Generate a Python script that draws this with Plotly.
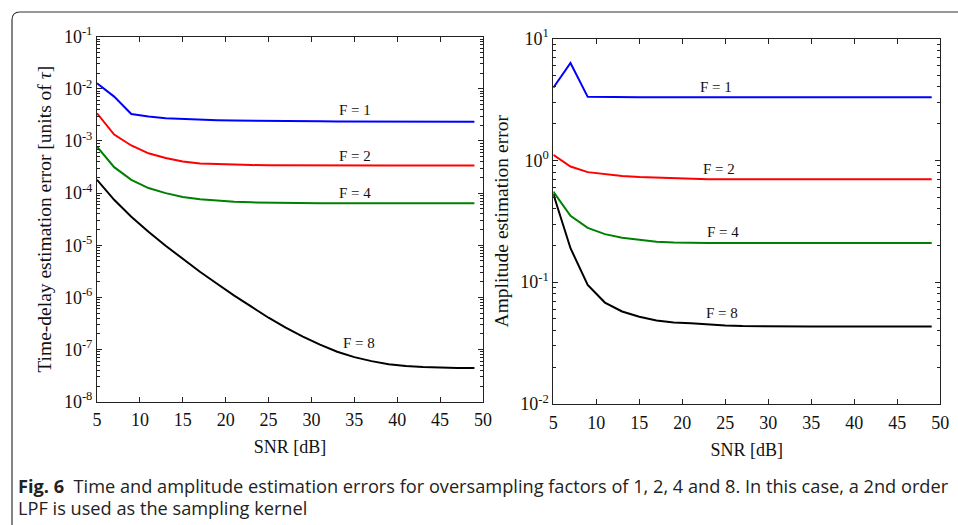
import math
import plotly.graph_objects as go

# SNR grid (dB)
snr = [5, 7, 9, 11, 13, 15, 17, 19, 21, 23, 25, 27, 29, 31, 33, 35, 37, 39, 41, 43, 45, 47, 49]

# Time-delay estimation error [units of tau]
td_f1 = [1.28e-2, 7.1e-3, 3.3e-3, 2.94e-3, 2.74e-3, 2.63e-3, 2.55e-3, 2.5e-3, 2.46e-3, 2.43e-3, 2.41e-3,
         2.4e-3, 2.39e-3, 2.38e-3, 2.37e-3, 2.37e-3, 2.36e-3, 2.36e-3, 2.36e-3, 2.35e-3, 2.35e-3, 2.35e-3, 2.35e-3]
td_f2 = [3.4e-3, 1.33e-3, 8.2e-4, 5.8e-4, 4.7e-4, 4.03e-4, 3.7e-4, 3.58e-4, 3.5e-4, 3.45e-4, 3.42e-4,
         3.4e-4, 3.39e-4, 3.38e-4, 3.38e-4, 3.38e-4, 3.38e-4, 3.38e-4, 3.38e-4, 3.38e-4, 3.38e-4, 3.38e-4, 3.38e-4]
td_f4 = [7.8e-4, 3.15e-4, 1.8e-4, 1.25e-4, 1.0e-4, 8.4e-5, 7.6e-5, 7.1e-5, 6.8e-5, 6.65e-5, 6.55e-5,
         6.5e-5, 6.45e-5, 6.42e-5, 6.4e-5, 6.4e-5, 6.4e-5, 6.4e-5, 6.4e-5, 6.4e-5, 6.4e-5, 6.4e-5, 6.4e-5]
td_f8 = [1.8e-4, 7.44e-5, 3.52e-5, 1.81e-5, 9.8e-6, 5.51e-6, 3.1e-6, 1.83e-6, 1.08e-6, 6.64e-7, 4.08e-7,
         2.63e-7, 1.77e-7, 1.24e-7, 9.1e-8, 7.15e-8, 6.0e-8, 5.25e-8, 4.85e-8, 4.64e-8, 4.5e-8, 4.45e-8, 4.41e-8]

# Amplitude estimation error
am_f1 = [3.94, 6.3, 3.32, 3.3, 3.3, 3.3, 3.3, 3.3, 3.3, 3.3, 3.3,
         3.3, 3.3, 3.3, 3.3, 3.3, 3.3, 3.3, 3.3, 3.3, 3.3, 3.3, 3.3]
am_f2 = [1.11, 0.89, 0.80, 0.77, 0.745, 0.73, 0.72, 0.71, 0.705, 0.70, 0.70,
         0.70, 0.70, 0.70, 0.70, 0.70, 0.70, 0.70, 0.70, 0.70, 0.70, 0.70, 0.70]
am_f4 = [0.553, 0.351, 0.279, 0.248, 0.232, 0.222, 0.215, 0.212, 0.21, 0.21, 0.21,
         0.21, 0.21, 0.21, 0.21, 0.21, 0.21, 0.21, 0.21, 0.21, 0.21, 0.21, 0.21]
am_f8 = [0.53, 0.19, 0.095, 0.068, 0.0575, 0.052, 0.0485, 0.0467, 0.046, 0.0448, 0.044,
         0.0436, 0.0434, 0.0433, 0.0433, 0.0433, 0.0433, 0.0433, 0.0433, 0.0433, 0.0433, 0.0433, 0.0433]

x_ticks = [5, 10, 15, 20, 25, 30, 35, 40, 45, 50]
td_exps = [-8, -7, -6, -5, -4, -3, -2, -1]
am_exps = [-2, -1, 0, 1]

series_colors = ["#0000ff", "#ff0000", "#008000", "#000000"]
series_names = ["F = 1", "F = 2", "F = 4", "F = 8"]

# label anchors (SNR, value) for each curve
td_label_pos = [(35.1, 3.93e-3), (35.1, 5.15e-4), (35.1, 9.93e-5), (35.5, 1.32e-7)]
am_label_pos = [(23.9, 4.02), (24.3, 0.844), (24.7, 0.259), (24.6, 0.0555)]

caption_lines = [
    "<b>Fig. 6</b>  Time and amplitude estimation errors for oversampling factors of 1, 2, 4 and 8. "
    "In this case, a 2nd order",
    "LPF is used as the sampling kernel",
]

SERIF = "Liberation Serif, Times New Roman, serif"

fig = go.Figure()

for vals, col in zip([td_f1, td_f2, td_f4, td_f8], series_colors):
    fig.add_trace(go.Scatter(x=snr, y=vals, mode="lines", line=dict(color=col, width=2),
                             xaxis="x", yaxis="y", showlegend=False))
for vals, col in zip([am_f1, am_f2, am_f4, am_f8], series_colors):
    fig.add_trace(go.Scatter(x=snr, y=vals, mode="lines", line=dict(color=col, width=2),
                             xaxis="x2", yaxis="y2", showlegend=False))


def minor_vals(exps):
    out = []
    for e in exps[:-1]:
        for m in range(2, 10):
            out.append(m * 10.0 ** e)
    return out


axis_common = dict(showline=True, linecolor="#222", linewidth=1, mirror="ticks", automargin=False,
                   ticks="inside", tickcolor="#222", tickwidth=1, showgrid=False, zeroline=False,
                   tickfont=dict(family=SERIF, size=18, color="#111"))

xaxis_common = dict(axis_common, range=[5, 50], tickvals=x_ticks, ticklen=5, ticklabelstandoff=2,
                    title=dict(text="SNR [dB]", font=dict(family=SERIF, size=18, color="#111"), standoff=11))

fig.update_layout(
    width=958, height=525,
    margin=dict(l=0, r=0, t=0, b=0),
    paper_bgcolor="white", plot_bgcolor="white",
    xaxis=dict(xaxis_common, domain=[97 / 958, 483 / 958], anchor="y"),
    xaxis2=dict(xaxis_common, domain=[553.3 / 958, 940.3 / 958], anchor="y2"),
    yaxis=dict(axis_common, type="log", range=[-8, -1], anchor="x",
               domain=[123.3 / 525, 488.3 / 525],
               tickvals=[10.0 ** e for e in td_exps],
               ticktext=["10<sup>%d</sup>" % e for e in td_exps], ticklen=5,
               minor=dict(ticks="inside", ticklen=3, tickcolor="#222", tickvals=minor_vals(td_exps)),
               title=dict(text="Time-delay estimation error [units of <i>τ</i>]",
                          font=dict(family=SERIF, size=19.5, color="#111"), standoff=7)),
    yaxis2=dict(axis_common, type="log", range=[-2, 1], anchor="x2",
                domain=[121 / 525, 486.5 / 525],
                tickvals=[10.0 ** e for e in am_exps],
                ticktext=["10<sup>%d</sup>" % e for e in am_exps], ticklen=5,
                minor=dict(ticks="inside", ticklen=3, tickcolor="#222", tickvals=minor_vals(am_exps)),
                title=dict(text="Amplitude estimation error",
                           font=dict(family=SERIF, size=19.5, color="#111"), standoff=6)),
)

# curve labels (log axes take log10 positions for annotations)
for (xv, yv), name in zip(td_label_pos, series_names):
    fig.add_annotation(x=xv, y=math.log10(yv), xref="x", yref="y", text=name, showarrow=False,
                       font=dict(family=SERIF, size=15, color="#111"))
for (xv, yv), name in zip(am_label_pos, series_names):
    fig.add_annotation(x=xv, y=math.log10(yv), xref="x2", yref="y2", text=name, showarrow=False,
                       font=dict(family=SERIF, size=15, color="#111"))

# caption, one annotation per line
for line_text, yc in zip(caption_lines, [486, 508]):
    fig.add_annotation(
        x=16 / 958, y=1 - yc / 525, xref="paper", yref="paper", xanchor="left", yanchor="middle",
        align="left", showarrow=False, text=line_text,
        font=dict(family="Open Sans, Noto Sans, sans-serif", size=18.2, color="#222"),
    )

# rounded frame around the figure panel
r = 8
x0, y0 = 12, 12
px = lambda v: v / 958
py = lambda v: 1 - v / 525
fig.add_shape(type="path", xref="paper", yref="paper",
              path=(f"M {px(x0)} {py(530)} L {px(x0)} {py(y0 + r)} "
                    f"Q {px(x0)} {py(y0)} {px(x0 + r)} {py(y0)} L {px(965)} {py(y0)}"),
              line=dict(color="#333", width=1.2))

fig.write_html("out.html")
